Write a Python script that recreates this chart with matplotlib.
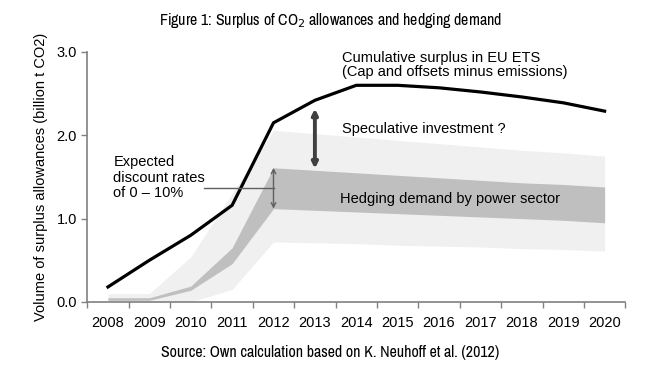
import numpy as np
import matplotlib.pyplot as plt
from matplotlib import font_manager

plt.rcParams['font.family'] = ['Liberation Sans', 'DejaVu Sans']

# data (billion t CO2)
years = ['2008', '2009', '2010', '2011', '2012', '2013', '2014',
         '2015', '2016', '2017', '2018', '2019', '2020']
surplus = [0.18, 0.50, 0.80, 1.16, 2.15, 2.42, 2.60, 2.60, 2.57, 2.52, 2.46, 2.39, 2.29]
outer_low = [0.01, 0.0, 0.0, 0.15, 0.72, 0.71, 0.70, 0.68, 0.67, 0.66, 0.64, 0.63, 0.61]
outer_high = [0.10, 0.10, 0.54, 1.30, 2.06, 2.02, 1.98, 1.94, 1.90, 1.86, 1.82, 1.79, 1.75]
inner_low = [0.02, 0.02, 0.14, 0.46, 1.12, 1.10, 1.08, 1.06, 1.04, 1.02, 1.00, 0.98, 0.95]
inner_high = [0.05, 0.05, 0.19, 0.65, 1.61, 1.58, 1.55, 1.52, 1.49, 1.46, 1.43, 1.41, 1.38]

x = np.arange(len(years))

# condensed face for title/source if there is one
names = sorted({f.name for f in font_manager.fontManager.ttflist})
cond = [n for n in names if 'Narrow' in n or 'Condensed' in n]
cond_family = cond + ['Liberation Sans'] if cond else ['Liberation Sans']

fig = plt.figure(figsize=(6.61, 3.66), dpi=100)
ax = fig.add_axes([0.132, 0.175, 0.814, 0.683])

ax.fill_between(x, outer_low, outer_high, color='#f0f0f0', lw=0)
ax.fill_between(x, inner_low, inner_high, color='#bfbfbf', lw=0)
ax.plot(x, surplus, color='black', lw=2.3, solid_joinstyle='miter')

# speculative investment arrow (2013)
ax.annotate('', xy=(5, 1.60), xytext=(5, 2.32),
            arrowprops=dict(arrowstyle='<|-|>', color='#404040', lw=2.8,
                            mutation_scale=8, shrinkA=0, shrinkB=0))
# discount rate range arrow (2012)
ax.annotate('', xy=(4, 1.12), xytext=(4, 1.61),
            arrowprops=dict(arrowstyle='<->', color='#606060', lw=1,
                            mutation_scale=8, shrinkA=0, shrinkB=0))
ax.plot([2.33, 4], [1.37, 1.37], color='#606060', lw=1)

ax.text(0.13, 1.49, 'Expected\ndiscount rates\nof 0 \u2013 10%', fontsize=10.5,
        va='center', ha='left', linespacing=1.12)
ax.text(5.65, 2.07, 'Speculative investment ?', fontsize=10.5, va='center')
ax.text(5.6, 1.24, 'Hedging demand by power sector', fontsize=10.5, va='center')
ax.text(5.65, 2.84, 'Cumulative surplus in EU ETS\n(Cap and offsets minus emissions)',
        fontsize=10.5, va='center', linespacing=1.0)

ax.set_xlim(-0.5, len(years) - 0.5)
ax.set_ylim(0, 3.0)
ax.set_yticks([0, 1, 2, 3])
ax.set_yticklabels(['0.0', '1.0', '2.0', '3.0'], fontsize=10.5)
ax.set_xticks(x)
ax.set_xticklabels(years, fontsize=10.5)
ax.set_xticks(np.arange(-0.5, len(years)), minor=True)
ax.tick_params(axis='x', which='major', length=0, pad=10)
ax.tick_params(axis='x', which='minor', length=4, color='#808080', width=1)
ax.tick_params(axis='y', length=4, color='#808080', width=1)
for s in ['top', 'right']:
    ax.spines[s].set_visible(False)
for s in ['left', 'bottom']:
    ax.spines[s].set_color('#808080')
    ax.spines[s].set_linewidth(1.2)

ax.set_ylabel('Volume of surplus allowances (billion t CO2)', fontsize=10.5, labelpad=6)

fig.text(0.5, 0.945, 'Figure 1: Surplus of CO$_2$ allowances and hedging demand',
         ha='center', va='center', fontsize=11.5, family=cond_family)
fig.text(0.5, 0.038, 'Source: Own calculation based on K. Neuhoff et al. (2012)',
         ha='center', va='center', fontsize=11.5, family=cond_family)

fig.savefig('out.png', dpi=100)
